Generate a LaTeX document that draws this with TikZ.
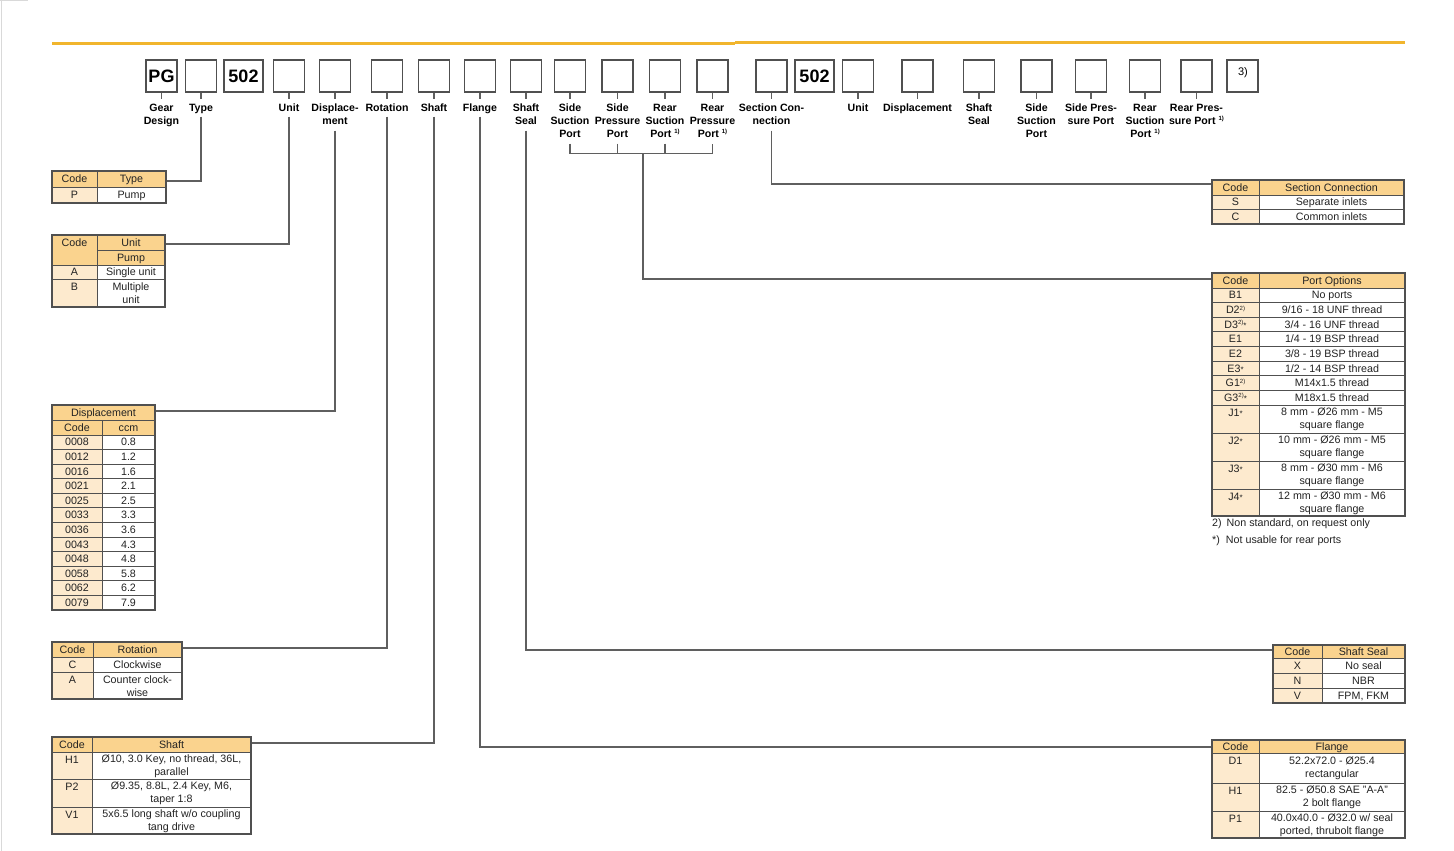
\documentclass[tikz,border=0pt]{standalone}
\usepackage{fontspec}
\setmainfont{Liberation Sans}
\usetikzlibrary{calc}
\definecolor{hdr}{RGB}{250,211,142}
\definecolor{cod}{RGB}{253,234,206}
\definecolor{gold}{RGB}{241,181,45}
\definecolor{lin}{RGB}{80,80,80}
\definecolor{con}{RGB}{95,95,95}
\definecolor{txt}{RGB}{35,35,35}
\newcounter{cellno}
\newcommand\supr[1]{\raisebox{3.4pt}{\fontsize{6}{6}\selectfont #1}}
\newcommand\astr{{\fontsize{8}{8}\selectfont *}}
\tikzset{
  hbox/.style={draw=lin, line width=1.1pt, minimum width=31pt, minimum height=32pt, inner sep=0pt, font=\fontsize{18}{18}\selectfont\bfseries},
  lbl/.style={anchor=north, inner sep=0pt, align=center, font=\fontsize{10.6}{13}\selectfont\bfseries},
  conn/.style={draw=con, line width=1.1pt},
  grid/.style={draw=lin, line width=0.9pt},
  frame/.style={draw=lin, line width=1.3pt},
  ctexta/.style={inner sep=0pt, text=txt, text height=7.6pt, text depth=0.3pt, font=\fontsize{10.7}{13}\selectfont},
  ctextb/.style={inner sep=0pt, text=txt, align=center, font=\fontsize{10.7}{13}\selectfont},
  foot/.style={anchor=west, inner sep=0pt, text=txt, font=\fontsize{10.7}{13}\selectfont},
}
% cell: x1,y1,x2,y2,fill
\newcommand\cell[5]{\filldraw[fill=#5, grid] ({#1},{#2}) rectangle ({#3},{#4});}
\newcommand\ctxt[3]{\stepcounter{cellno}\node[ctexta] (c\thecellno) at ({#1},{#2}) {#3};}
\newcommand\ctxtm[3]{\stepcounter{cellno}\node[ctextb] (c\thecellno) at ({#1},{#2}) {#3};}
% rows: x1,xm,x2,y1,y2,code,desc
\newcommand\hrow[7]{\cell{#1}{#4}{#2}{#5}{hdr}\cell{#2}{#4}{#3}{#5}{hdr}%
  \ctxt{(#1+#2)/2}{(#4+#5)/2}{#6}\ctxt{(#2+#3)/2}{(#4+#5)/2}{#7}}
\newcommand\drow[7]{\cell{#1}{#4}{#2}{#5}{cod}\cell{#2}{#4}{#3}{#5}{white}%
  \ctxt{(#1+#2)/2}{(#4+#5)/2}{#6}\ctxt{(#2+#3)/2}{(#4+#5)/2}{#7}}
\newcommand\drowii[7]{\cell{#1}{#4}{#2}{#5}{cod}\cell{#2}{#4}{#3}{#5}{white}%
  \ctxt{(#1+#2)/2}{#4+7.5}{#6}\ctxtm{(#2+#3)/2}{(#4+#5)/2+0.5}{#7}}
\begin{document}
\begin{tikzpicture}[x=1pt,y=-1pt]
\useasboundingbox (0,0) rectangle (1454,851);
\fill[white] (0,0) rectangle (1454,851);
\draw[gray!30, line width=1pt] (1,0) -- (1,851);
\draw[gray!30, line width=1pt] (0,1) -- (28,1);
% gold rule
\draw[gold, line width=2.8pt] (52,43.6) -- (735,43.6);
\draw[gold, line width=2.8pt] (735,42.6) -- (1405,42.6);

% header boxes
\node[hbox] (b1) at (161.5,76) {PG};
\node[hbox] (b2) at (201,76) {};
\node[hbox, minimum width=39pt] (b3) at (243.5,76) {502};
\node[hbox] (b4) at (289,76) {};
\node[hbox] (b5) at (335,76) {};
\node[hbox] (b6) at (387,76) {};
\node[hbox] (b7) at (434,76) {};
\node[hbox] (b8) at (480,76) {};
\node[hbox] (b9) at (526,76) {};
\node[hbox] (b10) at (570,76) {};
\node[hbox] (b11) at (617.5,76) {};
\node[hbox] (b12) at (665,76) {};
\node[hbox] (b13) at (712.5,76) {};
\node[hbox] (b14) at (771.5,76) {};
\node[hbox, minimum width=39pt] (b15) at (814.5,76) {502};
\node[hbox] (b16) at (858,76) {};
\node[hbox] (b17) at (917.5,76) {};
\node[hbox] (b18) at (979,76) {};
\node[hbox] (b19) at (1036.5,76) {};
\node[hbox] (b20) at (1091,76) {};
\node[hbox] (b21) at (1145,76) {};
\node[hbox] (b22) at (1196.5,76) {};
\node[hbox] (b23) at (1242.5,76) {};
\node[inner sep=0pt, font=\fontsize{11}{11}\selectfont] (t3) at (1243,73) {3)};

% ticks and labels
\foreach \b/\t in {b1/{Gear\\Design}, b2/Type, b4/Unit, b5/{Displace-\\ment}, b6/Rotation,
  b7/Shaft, b8/Flange, b9/{Shaft\\Seal}, b10/{Side\\Suction\\Port}, b11/{Side\\Pressure\\Port},
  b12/{Rear\\Suction\\Port \supr{1)}}, b13/{Rear\\Pressure\\Port \supr{1)}}, b14/{Section Con-\\nection},
  b16/Unit, b17/Displacement, b18/{Shaft\\Seal}, b19/{Side\\Suction\\Port}, b20/{Side Pres-\\sure Port},
  b21/{Rear\\Suction\\Port \supr{1)}}, b22/{Rear Pres-\\sure Port \supr{1)}}}{
  \draw[conn] (\b.south) -- ++(0,6);
  \node[lbl] (l\b) at ($(\b.south)+(0,11.3)$) {\t};
}

% connection points on tables
\coordinate (tType) at (166,181);
\coordinate (tUnit) at (165,244);
\coordinate (tDisp) at (155,411);
\coordinate (tRot) at (182,648);
\coordinate (tShaft) at (251,743);
\coordinate (tSec) at (1212,184);
\coordinate (tPort) at (1212,279);
\coordinate (tSeal) at (1273,650);
\coordinate (tFlange) at (1212,747);
\coordinate (brk) at (643,153);

% connectors
\draw[conn] ($(b2.south)+(0,24)$) |- (tType);
\draw[conn] ($(b4.south)+(0,24)$) |- (tUnit);
\draw[conn] ($(b5.south)+(0,38)$) |- (tDisp);
\draw[conn] ($(b6.south)+(0,24)$) |- (tRot);
\draw[conn] ($(b7.south)+(0,24)$) |- (tShaft);
\draw[conn] ($(b8.south)+(0,24)$) |- (tFlange);
\draw[conn] ($(b9.south)+(0,38)$) |- (tSeal);
\draw[conn] ($(b14.south)+(0,38)$) |- (tSec);
\draw[conn] ($(b10.south)+(0,51)$) |- ($(b13.south)+(0,61)$) -- ($(b13.south)+(0,51)$);
\draw[conn] ($(b11.south)+(0,51)$) -- ($(b11.south)+(0,61)$);
\draw[conn] ($(b12.south)+(0,51)$) -- ($(b12.south)+(0,61)$);
\draw[conn] (brk) |- (tPort);

% ---- Type table
\hrow{52}{97}{166}{171}{187}{Code}{Type}
\drow{52}{97}{166}{187}{203}{P}{Pump}
\draw[frame] (52,171) rectangle (166,203);

% ---- Unit table
\cell{52}{235}{97}{265}{hdr}\ctxt{74.5}{243}{Code}
\cell{97}{235}{165}{250}{hdr}\ctxt{131}{242.5}{Unit}
\cell{97}{250}{165}{265}{hdr}\ctxt{131}{257.5}{Pump}
\drow{52}{97}{165}{265}{279}{A}{Single unit}
\drowii{52}{97}{165}{279}{307}{B}{Multiple\\unit}
\draw[frame] (52,235) rectangle (165,307);

% ---- Displacement table
\cell{52}{405}{155}{420}{hdr}\ctxt{103.5}{412.5}{Displacement}
\hrow{52}{102}{155}{420}{435}{Code}{ccm}
\foreach \c/\v [count=\i from 0] in {0008/0.8,0012/1.2,0016/1.6,0021/2.1,0025/2.5,0033/3.3,0036/3.6,0043/4.3,0048/4.8,0058/5.8,0062/6.2,0079/7.9}{
  \drow{52}{102}{155}{435+\i*14.583}{435+(\i+1)*14.583}{\c}{\v}
}
\draw[frame] (52,405) rectangle (155,610);

% ---- Rotation table
\hrow{52}{93}{182}{642}{657}{Code}{Rotation}
\drow{52}{93}{182}{657}{672}{C}{Clockwise}
\drowii{52}{93}{182}{672}{699}{A}{Counter clock-\\wise}
\draw[frame] (52,642) rectangle (182,699);

% ---- Shaft table
\hrow{52}{92}{251}{737}{752}{Code}{Shaft}
\drowii{52}{92}{251}{752}{779}{H1}{Ø10, 3.0 Key, no thread, 36L,\\parallel}
\drowii{52}{92}{251}{779}{807}{P2}{Ø9.35, 8.8L, 2.4 Key, M6,\\taper 1:8}
\drowii{52}{92}{251}{807}{834}{V1}{5x6.5 long shaft w/o coupling\\tang drive}
\draw[frame] (52,737) rectangle (251,834);

% ---- Section Connection table
\hrow{1212}{1259}{1404}{180}{195}{Code}{Section Connection}
\drow{1212}{1259}{1404}{195}{209.5}{S}{Separate inlets}
\drow{1212}{1259}{1404}{209.5}{224}{C}{Common inlets}
\draw[frame] (1212,180) rectangle (1404,224);

% ---- Port Options table
\hrow{1212}{1259}{1405}{273}{288}{Code}{Port Options}
\drow{1212}{1259}{1405}{288}{302.6}{B1}{No ports}
\drow{1212}{1259}{1405}{302.6}{317.25}{D2\supr{2)}}{9/16 - 18 UNF thread}
\drow{1212}{1259}{1405}{317.25}{331.9}{D3\supr{2)}\astr}{3/4 - 16 UNF thread}
\drow{1212}{1259}{1405}{331.9}{346.5}{E1}{1/4 - 19 BSP thread}
\drow{1212}{1259}{1405}{346.5}{361.1}{E2}{3/8 - 19 BSP thread}
\drow{1212}{1259}{1405}{361.1}{375.75}{E3\astr}{1/2 - 14 BSP thread}
\drow{1212}{1259}{1405}{375.75}{390.4}{G1\supr{2)}}{M14x1.5 thread}
\drow{1212}{1259}{1405}{390.4}{405}{G3\supr{2)}\astr}{M18x1.5 thread}
\drowii{1212}{1259}{1405}{405}{433}{J1\astr}{8 mm - Ø26 mm - M5\\square flange}
\drowii{1212}{1259}{1405}{433}{461}{J2\astr}{10 mm - Ø26 mm - M5\\square flange}
\drowii{1212}{1259}{1405}{461}{489}{J3\astr}{8 mm - Ø30 mm - M6\\square flange}
\drowii{1212}{1259}{1405}{489}{516}{J4\astr}{12 mm - Ø30 mm - M6\\square flange}
\draw[frame] (1212,273) rectangle (1405,516);
\node[foot] (f1) at (1212,524) {2)\hspace{5pt}Non standard, on request only};
\node[foot] (f2) at (1212,541) {*)\hspace{6pt}Not usable for rear ports};

% ---- Shaft Seal table
\hrow{1273}{1322}{1405}{645}{658}{Code}{Shaft Seal}
\drow{1273}{1322}{1405}{658}{673}{X}{No seal}
\drow{1273}{1322}{1405}{673}{688}{N}{NBR}
\drow{1273}{1322}{1405}{688}{703}{V}{FPM, FKM}
\draw[frame] (1273,645) rectangle (1405,703);

% ---- Flange table
\hrow{1212}{1259}{1405}{740}{753}{Code}{Flange}
\drowii{1212}{1259}{1405}{753}{783}{D1}{52.2x72.0 - Ø25.4\\rectangular}
\drowii{1212}{1259}{1405}{783}{811}{H1}{82.5 - Ø50.8 SAE "A-A"\\2 bolt flange}
\drowii{1212}{1259}{1405}{811}{838}{P1}{40.0x40.0 - Ø32.0 w/ seal\\ported, thrubolt flange}
\draw[frame] (1212,740) rectangle (1405,838);
\end{tikzpicture}
\end{document}
